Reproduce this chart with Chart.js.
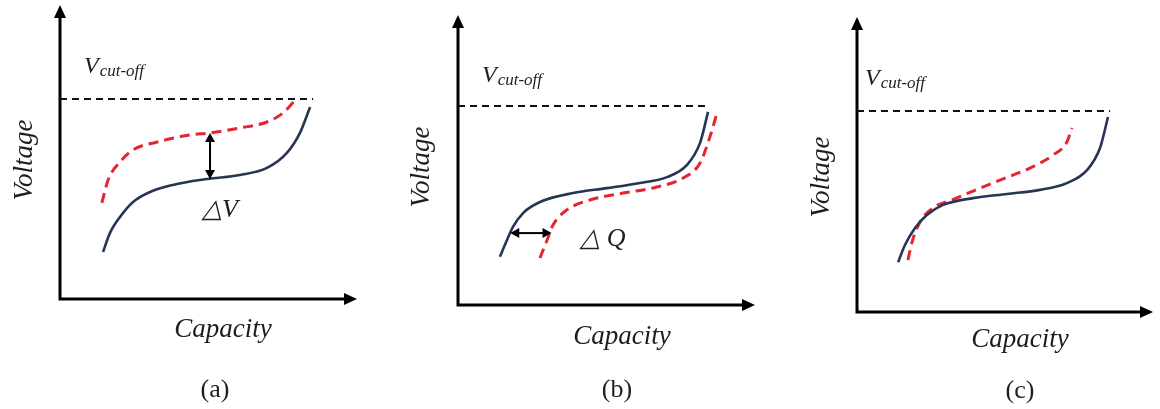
<!DOCTYPE html>
<html>
<head>
<meta charset="utf-8">
<script src="https://cdn.jsdelivr.net/npm/chart.js@4.4.1/dist/chart.umd.min.js"></script>
<style>
  html, body { margin: 0; padding: 0; background: #fff; width: 1160px; height: 409px; overflow: hidden; }
  .panel { position: absolute; top: 0; height: 409px; }
</style>
</head>
<body>
<div class="panel" style="left:0;width:390px"><canvas id="pa" width="390" height="409"></canvas></div>
<div class="panel" style="left:390px;width:390px"><canvas id="pb" width="390" height="409"></canvas></div>
<div class="panel" style="left:780px;width:380px"><canvas id="pc" width="380" height="409"></canvas></div>
<script>
// Charge curves, both axes in relative units (0-100)

// (a) voltage offset
const aRefCapacity  = [14.5, 16.8, 20.2, 24.6, 30.3, 38.0, 49.5, 60.6, 69.7, 76.4, 80.8, 84.2];
const aRefVoltage   = [16.0, 22.4, 27.9, 33.0, 36.4, 38.8, 40.8, 42.2, 44.6, 49.7, 56.5, 65.3];
const aAgedCapacity = [14.1, 16.2, 20.2, 24.6, 32.7, 43.8, 50.5, 60.6, 69.7, 75.1, 79.8];
const aAgedVoltage  = [32.7, 40.5, 46.6, 50.7, 53.4, 55.8, 56.5, 58.2, 60.2, 63.3, 68.4];

// (b) capacity offset
const bRefCapacity  = [14.1, 16.5, 18.5, 21.9, 27.6, 38.7, 50.2, 61.3, 70.4, 77.1, 81.5, 84.2];
const bRefVoltage   = [16.6, 22.4, 26.9, 31.7, 35.5, 38.6, 40.3, 42.1, 44.1, 48.3, 55.9, 66.6];
const bAgedCapacity = [27.6, 30.0, 32.0, 36.7, 44.4, 55.6, 67.0, 75.8, 81.5, 84.8, 87.2];
const bAgedVoltage  = [16.2, 22.4, 27.6, 32.8, 36.2, 38.6, 40.7, 43.8, 49.0, 57.9, 66.2];

// (c) shape change
const cRefCapacity  = [13.9, 16.2, 19.6, 23.6, 29.1, 39.2, 50.7, 61.8, 70.9, 77.7, 82.1, 84.8];
const cRefVoltage   = [16.9, 22.7, 28.5, 32.9, 36.3, 38.6, 40.0, 41.4, 43.7, 48.1, 55.6, 66.1];
const cAgedCapacity = [17.2, 18.6, 21.3, 25.7, 32.1, 39.2, 48.3, 58.4, 66.2, 70.9, 72.6];
const cAgedVoltage  = [17.6, 23.7, 30.5, 35.3, 38.0, 41.0, 44.7, 48.8, 53.2, 57.6, 62.4];

// cut-off voltage level and where its dashed line ends, per panel
const cutoffVoltage = [68.0, 68.6, 68.1];
const cutoffLineEnd = [85.2, 84.8, 85.5];

// ΔV marker (a) and ΔQ marker (b)
const deltaVCapacity = 50.5;
const deltaVRange    = [40.8, 56.5];
const deltaQVoltage  = 24.8;
const deltaQRange    = [17.6, 31.5];

const panelTags = ['(a)', '(b)', '(c)'];

const NAVY = '#263553';
const RED  = '#e3262f';
const INK  = '#1e1e1e';
const SERIF = '"Liberation Serif", "Times New Roman", serif';

function pts(xs, ys) { return xs.map((x, i) => ({ x: x, y: ys[i] })); }

function arrowHead(ctx, x, y, angle, len, half) {
  ctx.save();
  ctx.translate(x, y);
  ctx.rotate(angle);
  ctx.beginPath();
  ctx.moveTo(0, 0);
  ctx.lineTo(-len, -half);
  ctx.lineTo(-len, half);
  ctx.closePath();
  ctx.fill();
  ctx.restore();
}

const decor = {
  id: 'decor',
  beforeDatasetsDraw(chart) {
    const { ctx, chartArea: a } = chart;
    ctx.save();
    ctx.strokeStyle = '#000';
    ctx.fillStyle = '#000';
    ctx.lineWidth = 3;
    ctx.lineCap = 'butt';
    ctx.beginPath();
    ctx.moveTo(a.left, a.top + 10);
    ctx.lineTo(a.left, a.bottom);
    ctx.lineTo(a.right - 10, a.bottom);
    ctx.stroke();
    arrowHead(ctx, a.left, a.top, -Math.PI / 2, 13, 6);
    arrowHead(ctx, a.right, a.bottom, 0, 13, 6);
    ctx.restore();
  },
  afterDatasetsDraw(chart, args, opts) {
    const { ctx } = chart;
    const xs = chart.scales.x, ys = chart.scales.y;
    ctx.save();
    ctx.fillStyle = INK;

    // axis titles
    ctx.font = 'italic 27px ' + SERIF;
    ctx.textAlign = 'center';
    ctx.textBaseline = 'middle';
    ctx.fillText('Capacity', opts.cap[0], opts.cap[1]);
    ctx.save();
    ctx.translate(opts.volt[0], opts.volt[1]);
    ctx.rotate(-Math.PI / 2);
    ctx.fillText('Voltage', 0, 0);
    ctx.restore();

    // V cut-off label
    ctx.textAlign = 'left';
    ctx.textBaseline = 'alphabetic';
    ctx.font = 'italic 24px ' + SERIF;
    ctx.fillText('V', opts.vcut[0], opts.vcut[1]);
    const vw = ctx.measureText('V').width;
    ctx.font = 'italic 17px ' + SERIF;
    ctx.fillText('cut-off', opts.vcut[0] + vw + 1, opts.vcut[1] + 3);

    // panel tag
    ctx.font = '26px ' + SERIF;
    ctx.textAlign = 'center';
    ctx.textBaseline = 'middle';
    ctx.fillText(opts.tag, opts.tagPos[0], opts.tagPos[1]);

    // difference markers
    ctx.fillStyle = '#000';
    ctx.strokeStyle = '#000';
    ctx.lineWidth = 2;
    if (opts.marker === 'dV') {
      const x = xs.getPixelForValue(deltaVCapacity);
      const y0 = ys.getPixelForValue(deltaVRange[0]);
      const y1 = ys.getPixelForValue(deltaVRange[1]);
      ctx.beginPath();
      ctx.moveTo(x, y0 - 8);
      ctx.lineTo(x, y1 + 8);
      ctx.stroke();
      arrowHead(ctx, x, y1, -Math.PI / 2, 9, 5);
      arrowHead(ctx, x, y0, Math.PI / 2, 9, 5);
      ctx.fillStyle = INK;
      ctx.font = 'italic 26px ' + SERIF;
      ctx.fillText('\u25B3V', opts.labelPos[0], opts.labelPos[1]);
    } else if (opts.marker === 'dQ') {
      const y = ys.getPixelForValue(deltaQVoltage);
      const x0 = xs.getPixelForValue(deltaQRange[0]);
      const x1 = xs.getPixelForValue(deltaQRange[1]);
      ctx.beginPath();
      ctx.moveTo(x0 + 8, y);
      ctx.lineTo(x1 - 8, y);
      ctx.stroke();
      arrowHead(ctx, x0, y, Math.PI, 9, 5);
      arrowHead(ctx, x1, y, 0, 9, 5);
      ctx.fillStyle = INK;
      ctx.font = 'italic 26px ' + SERIF;
      ctx.fillText('\u25B3 Q', opts.labelPos[0], opts.labelPos[1]);
    }
    ctx.restore();
  }
};

function makePanel(id, i, ref, aged, pad, deco) {
  new Chart(document.getElementById(id), {
    type: 'line',
    data: {
      datasets: [
        {
          data: [{ x: 0, y: cutoffVoltage[i] }, { x: cutoffLineEnd[i], y: cutoffVoltage[i] }],
          borderColor: '#111', borderWidth: 2, borderDash: [7, 5], pointRadius: 0, tension: 0
        },
        {
          data: pts(ref[0], ref[1]),
          borderColor: NAVY, borderWidth: 2.6, pointRadius: 0, cubicInterpolationMode: 'monotone'
        },
        {
          data: pts(aged[0], aged[1]),
          borderColor: RED, borderWidth: 3, borderDash: [10, 6], pointRadius: 0, cubicInterpolationMode: 'monotone'
        }
      ]
    },
    options: {
      responsive: false,
      animation: false,
      layout: { padding: pad },
      scales: {
        x: { type: 'linear', min: 0, max: 100, display: false },
        y: { type: 'linear', min: 0, max: 100, display: false }
      },
      plugins: {
        legend: { display: false },
        tooltip: { enabled: false },
        decor: Object.assign({ tag: panelTags[i] }, deco)
      },
      clip: false
    },
    plugins: [decor]
  });
}

makePanel('pa', 0, [aRefCapacity, aRefVoltage], [aAgedCapacity, aAgedVoltage],
  { left: 60, right: 33, top: 5, bottom: 110 },
  { cap: [223, 330], volt: [25, 160], vcut: [84, 73], tagPos: [215, 390], marker: 'dV', labelPos: [220, 210] });

makePanel('pb', 1, [bRefCapacity, bRefVoltage], [bAgedCapacity, bAgedVoltage],
  { left: 68, right: 25, top: 15, bottom: 104 },
  { cap: [232, 337], volt: [32, 167], vcut: [92, 82], tagPos: [227, 390], marker: 'dQ', labelPos: [213, 239] });

makePanel('pc', 2, [cRefCapacity, cRefVoltage], [cAgedCapacity, cAgedVoltage],
  { left: 77, right: 7, top: 17, bottom: 97 },
  { cap: [240, 340], volt: [42, 177], vcut: [85, 85], tagPos: [240, 391], marker: null });
</script>
</body>
</html>
